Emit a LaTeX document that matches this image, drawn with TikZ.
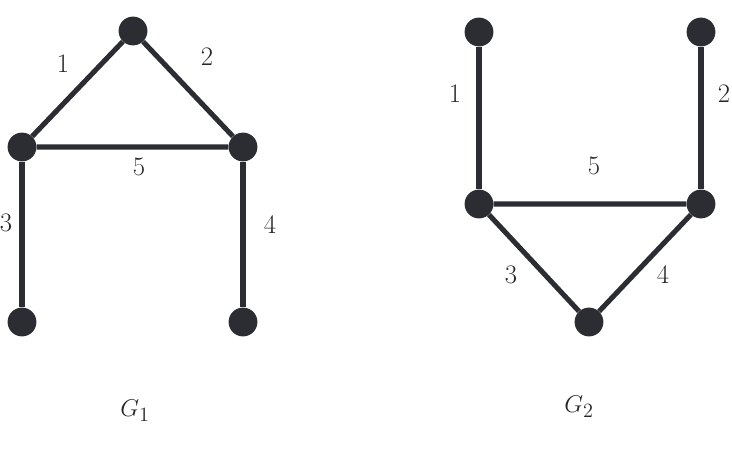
\documentclass[tikz,border=0pt]{standalone}
\usepackage{amsmath,amssymb}
\usepackage{xcolor}
\usepackage{tikz}
\definecolor{vtxgray}{HTML}{2B2D32}

\begin{document}
\begin{tikzpicture}[x=0.025cm,y=-0.025cm,
    vtx/.style={circle,fill=vtxgray,inner sep=0pt,minimum size=0.72cm},
    edg/.style={line width=3.6pt,vtxgray},
    lbl/.style={font=\fontsize{19}{22}\selectfont,text=black!85}]
  \useasboundingbox (0,0) rectangle (732,453);
  % G_1 : triangle on top with two pendant edges hanging down
  \node[vtx] (a1) at (133,31)  {};
  \node[vtx] (b1) at (22,147)  {};
  \node[vtx] (c1) at (243,147) {};
  \node[vtx] (d1) at (22,322)  {};
  \node[vtx] (e1) at (243,322) {};
  \draw[edg] (b1) -- (a1) -- (c1) -- (b1);
  \draw[edg] (b1) -- (d1);
  \draw[edg] (c1) -- (e1);

  % G_2 : triangle at the bottom, two pendant edges going up
  \node[vtx] (a2) at (479,32)  {};
  \node[vtx] (b2) at (701,32)  {};
  \node[vtx] (c2) at (479,204) {};
  \node[vtx] (d2) at (701,204) {};
  \node[vtx] (e2) at (589,322) {};
  \draw[edg] (a2) -- (c2);
  \draw[edg] (b2) -- (d2);
  \draw[edg] (c2) -- (d2) -- (e2) -- (c2);

  % edge labels
  \node[lbl] (l11) at (63,64)   {1};
  \node[lbl] (l12) at (207,57)  {2};
  \node[lbl] (l13) at (6,223)   {3};
  \node[lbl] (l14) at (270,225) {4};
  \node[lbl] (l15) at (139,167) {5};

  \node[lbl] (l21) at (455,94)  {1};
  \node[lbl] (l22) at (724,94)  {2};
  \node[lbl] (l23) at (511,275) {3};
  \node[lbl] (l24) at (663,275) {4};
  \node[lbl] (l25) at (594,166) {5};

  % graph names
  \node[lbl] (g1) at (135,411) {\(G_1\)};
  \node[lbl] (g2) at (579,407) {\(G_2\)};
\end{tikzpicture}
\end{document}
